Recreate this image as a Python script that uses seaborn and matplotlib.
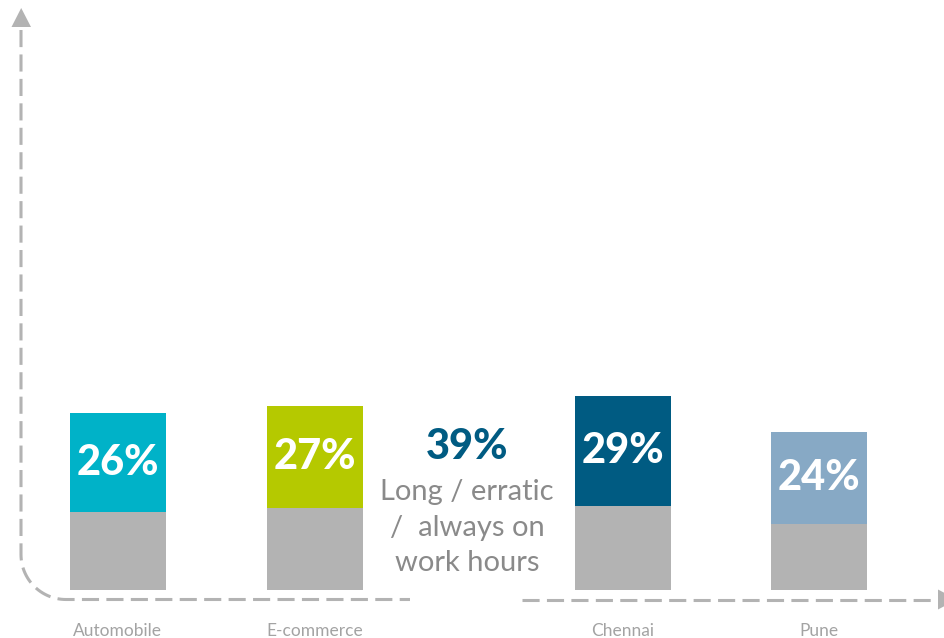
import numpy as np
import pandas as pd
import matplotlib
matplotlib.use("Agg")
import matplotlib.pyplot as plt
from matplotlib.patches import Polygon
import seaborn as sns

# ---- data -------------------------------------------------------------
categories = ["Automobile", "E-commerce", "Chennai", "Pune"]
share = [26, 27, 29, 24]              # highlighted share, % (labelled)
base = [20.5, 21.5, 22.0, 17.5]       # grey base segment
bar_colors = ["#00b2c8", "#b5c900", "#005b82", "#87a9c5"]
callout_value = "39%"
callout_lines = ["Long / erratic", "/  always on", "work hours"]

# ---- layout -----------------------------------------------------------
W, H = 944, 638
x_centers = [117.5, 315, 623, 819]    # bar centres in figure pixels
bar_px = 96
px_per_unit = 3.8
axis_y = 590                          # baseline (pixels from top)

GREY = "#b3b3b3"
FONT = ["Lato", "DejaVu Sans"]

sns.set_theme(style="white")
plt.rcParams["font.family"] = FONT

df = pd.DataFrame({
    "category": categories,
    "xpos": x_centers,
    "share": share,
    "base": base,
})
df["total"] = df["base"] + df["share"]

fig = plt.figure(figsize=(W / 100, H / 100), dpi=100)
fig.patch.set_facecolor("white")

ax = fig.add_axes([0, (H - axis_y) / H, 1, axis_y / H])
min_gap = np.min(np.diff(sorted(x_centers)))
width = bar_px / min_gap

sns.barplot(data=df, x="xpos", y="total", hue="category",
            palette=dict(zip(categories, bar_colors)), native_scale=True,
            dodge=False, width=width, errorbar=None, saturation=1,
            linewidth=0, legend=False, ax=ax)
sns.barplot(data=df, x="xpos", y="base", color=GREY, native_scale=True,
            width=width, errorbar=None, saturation=1, linewidth=0, ax=ax)

ax.set_xlim(0, W)
ax.set_ylim(0, axis_y / px_per_unit)
for s in ax.spines.values():
    s.set_visible(False)
ax.set_yticks([])
ax.set_xticks(x_centers)
ax.set_xticklabels(categories, fontsize=12.5, color="#a3a3a3",
                   fontweight="normal")
ax.tick_params(axis="x", length=0, pad=24)
ax.set_xlabel("")
ax.set_ylabel("")
ax.patch.set_alpha(0)

# value labels centred in the coloured segment
for _, r in df.iterrows():
    ax.text(r["xpos"], r["base"] + r["share"] / 2, f"{r['share']}%",
            ha="center", va="center", color="white", fontsize=30,
            fontweight="black")

# ---- overlay: dashed axes and call-out, in pixel coordinates ------------
ov = fig.add_axes([0, 0, 1, 1], zorder=5)
ov.set_xlim(0, W)
ov.set_ylim(H, 0)
ov.axis("off")
ov.patch.set_alpha(0)

lw = 2.2
dash = (5.6, 2.4)
yx = 599.5
r = 45
theta = np.linspace(np.pi, np.pi / 2, 30)
vx = [21, 21] + list(66 + r * np.cos(theta)) + [410]
vy = [30, yx - r] + list(yx - r + r * np.sin(theta)) + [yx]
ov.plot(vx, vy, color=GREY, lw=lw, dashes=dash, solid_capstyle="butt")
ov.plot([522, 940], [yx, yx], color=GREY, lw=lw, dashes=dash)
ov.add_patch(Polygon([[11.5, 27], [31, 27], [21.2, 8]], closed=True,
                     color=GREY, lw=0))
ov.add_patch(Polygon([[938, yx - 10], [938, yx + 10], [957, yx]],
                     closed=True, color=GREY, lw=0))

ov.text(467, 447, callout_value, ha="center", va="center", color="#005b82",
        fontsize=30, fontweight="black")
for yy, line in zip([492, 528, 563], callout_lines):
    ov.text(467, yy, line, ha="center", va="center", color="#8a8a8a",
            fontsize=21, fontweight="normal")

fig.savefig("out.png", dpi=100, facecolor="white")
